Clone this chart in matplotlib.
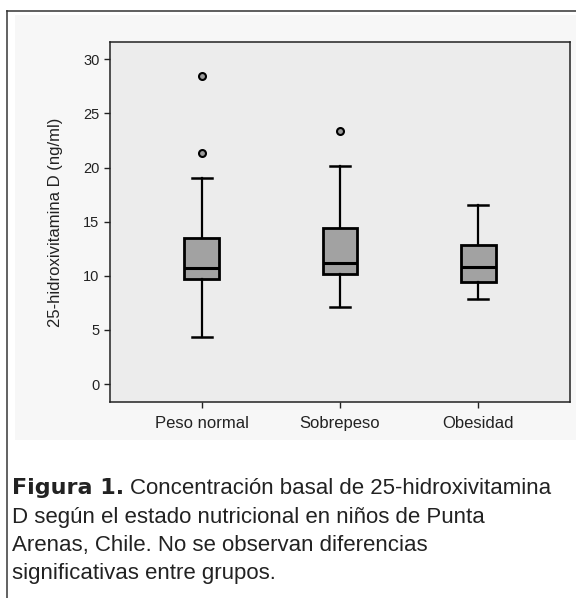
import matplotlib
matplotlib.use("Agg")
import matplotlib.pyplot as plt
from matplotlib.lines import Line2D
from matplotlib.patches import Rectangle

plt.rcParams['font.family'] = ['Liberation Sans', 'DejaVu Sans']

# valores (ng/ml)
grupos = ['Peso normal', 'Sobrepeso', 'Obesidad']
bigote_inf = [4.35, 7.1, 7.85]
q1 = [9.75, 10.2, 9.45]
mediana = [10.75, 11.2, 10.85]
q3 = [13.5, 14.4, 12.85]
bigote_sup = [19.0, 20.1, 16.5]
atipicos = [[21.3, 28.45], [23.35], []]
yticks = [0, 5, 10, 15, 20, 25, 30]

W, H = 576, 598
fig = plt.figure(figsize=(W / 100, H / 100), dpi=100)
fig.patch.set_facecolor('white')

# panel gris claro detrás del gráfico
fig.add_artist(Rectangle((15 / W, 1 - 440 / H), 1 - 15 / W, (440 - 15) / H,
                         transform=fig.transFigure, facecolor='#f7f7f7',
                         edgecolor='none', zorder=0))
# marco exterior (izquierda y arriba)
fig.add_artist(Line2D([7 / W, 7 / W], [0, 1 - 11 / H], transform=fig.transFigure,
                      color='#555555', lw=1.3))
fig.add_artist(Line2D([7 / W, 1], [1 - 11 / H, 1 - 11 / H], transform=fig.transFigure,
                      color='#333333', lw=1.1))

ax = fig.add_axes([110 / W, 1 - 402 / H, 460 / W, 360 / H])
ax.set_facecolor('#ececec')

stats = []
for i, g in enumerate(grupos):
    stats.append({
        'label': g,
        'whislo': bigote_inf[i],
        'q1': q1[i],
        'med': mediana[i],
        'q3': q3[i],
        'whishi': bigote_sup[i],
        'fliers': atipicos[i],
    })

ax.bxp(stats, positions=[1, 2, 3], widths=0.253, capwidths=0.145,
       patch_artist=True, showfliers=True,
       boxprops=dict(facecolor='#a2a2a2', edgecolor='black', linewidth=2.0),
       medianprops=dict(color='black', linewidth=2.2),
       whiskerprops=dict(color='black', linewidth=1.6),
       capprops=dict(color='black', linewidth=1.8),
       flierprops=dict(marker='o', markersize=5, markerfacecolor='#9a9a9a',
                       markeredgecolor='black', markeredgewidth=1.5))

ax.set_xlim(0.337, 3.663)
ax.set_ylim(-1.66, 31.6)
ax.set_yticks(yticks)
ax.set_xticks([1, 2, 3])
ax.set_xticklabels(grupos)
ax.tick_params(axis='both', length=4, width=1.0, color='#222222', labelcolor='#222222')
ax.tick_params(axis='y', labelsize=10.5)
ax.tick_params(axis='x', labelsize=12, pad=6)
for s in ax.spines.values():
    s.set_linewidth(1.1)
    s.set_color('#222222')
ax.set_ylabel('25-hidroxivitamina D (ng/ml)', fontsize=12, color='#222222')
ax.yaxis.set_label_coords(-0.103, 0.5)

# pie de figura
x0 = 12 / W
lineas_y = [488, 517, 545, 574]
fs = 16
t_bold = fig.text(x0, 1 - lineas_y[0] / H, 'Figura 1.', fontsize=fs, fontweight='bold',
                  family='DejaVu Sans', color='#222222', va='center', ha='left')
fig.canvas.draw()
bb = t_bold.get_window_extent()
fig.text(bb.x1 / W + 6 / W, 1 - lineas_y[0] / H, 'Concentración basal de 25-hidroxivitamina',
         fontsize=fs, color='#222222', va='center', ha='left')
resto = ['D según el estado nutricional en niños de Punta',
         'Arenas, Chile. No se observan diferencias',
         'significativas entre grupos.']
for y, txt in zip(lineas_y[1:], resto):
    fig.text(x0, 1 - y / H, txt, fontsize=fs, color='#222222', va='center', ha='left')

fig.savefig('out.png', dpi=100)
